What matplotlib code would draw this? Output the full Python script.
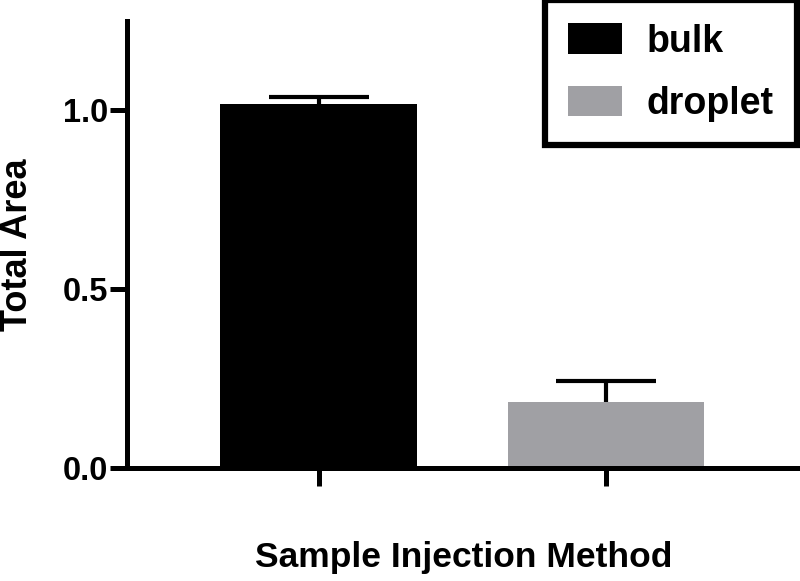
import matplotlib
matplotlib.use("Agg")
import matplotlib.pyplot as plt
from matplotlib.patches import Patch

categories = ["bulk", "droplet"]
values = [1.017, 0.184]
errors = [0.019, 0.058]
colors = ["#000000", "#a0a0a4"]
yticks = [0.0, 0.5, 1.0]
ytick_labels = ["0.0", "0.5", "1.0"]

plt.rcParams['font.family'] = ['Liberation Sans', 'DejaVu Sans']
plt.rcParams['font.weight'] = 'bold'

fig = plt.figure(figsize=(8, 5.81), dpi=100)
ax = fig.add_axes([0.159, 0.1945, 0.837, 0.7695])

x = list(range(len(categories)))
ax.bar(x, values, width=0.685, color=colors, edgecolor='none', zorder=2)
eb = ax.errorbar(x, values, yerr=[[0] * len(errors), errors], fmt='none',
                 ecolor='black', elinewidth=3, capsize=36, capthick=3, zorder=3)
# keep only the upper caps
for cl in eb[1]:
    yd = list(cl.get_ydata())
    if all(abs(a - b) < 1e-9 for a, b in zip(yd, values)):
        cl.set_visible(False)

ax.set_xlim(-0.666, 1.664)
ax.set_ylim(0, 1.25)
ax.set_yticks(yticks)
ax.set_yticklabels(ytick_labels)
ax.set_xticks(x)
ax.set_xticklabels([])

for s in ['top', 'right']:
    ax.spines[s].set_visible(False)
for s in ['left', 'bottom']:
    ax.spines[s].set_linewidth(3.6)
ax.tick_params(axis='y', length=12, width=3.6, labelsize=23.5, pad=2)
ax.tick_params(axis='x', length=13, width=3.6)
for lab in ax.get_yticklabels():
    lab.set_fontweight('bold')

fig.text(0.0, 0.578, "Total Area", rotation=90, fontsize=26, fontweight='bold',
         ha='left', va='center')
fig.text(0.579, 0.0241, "Sample Injection Method", fontsize=25.5,
         fontweight='bold', ha='center', va='baseline')

handles = [Patch(facecolor=c, edgecolor='none') for c in colors]
leg = fig.legend(handles, categories, loc='upper right',
                 bbox_to_anchor=(0.996, 1.0),
                 handlelength=1.44, handleheight=0.88, labelspacing=0.7,
                 handletextpad=0.65, borderpad=0.62, borderaxespad=0,
                 fancybox=False, framealpha=1, edgecolor='black',
                 prop={'weight': 'bold', 'size': 27})
leg.get_frame().set_linewidth(4.5)

fig.savefig("out.png", dpi=100)
